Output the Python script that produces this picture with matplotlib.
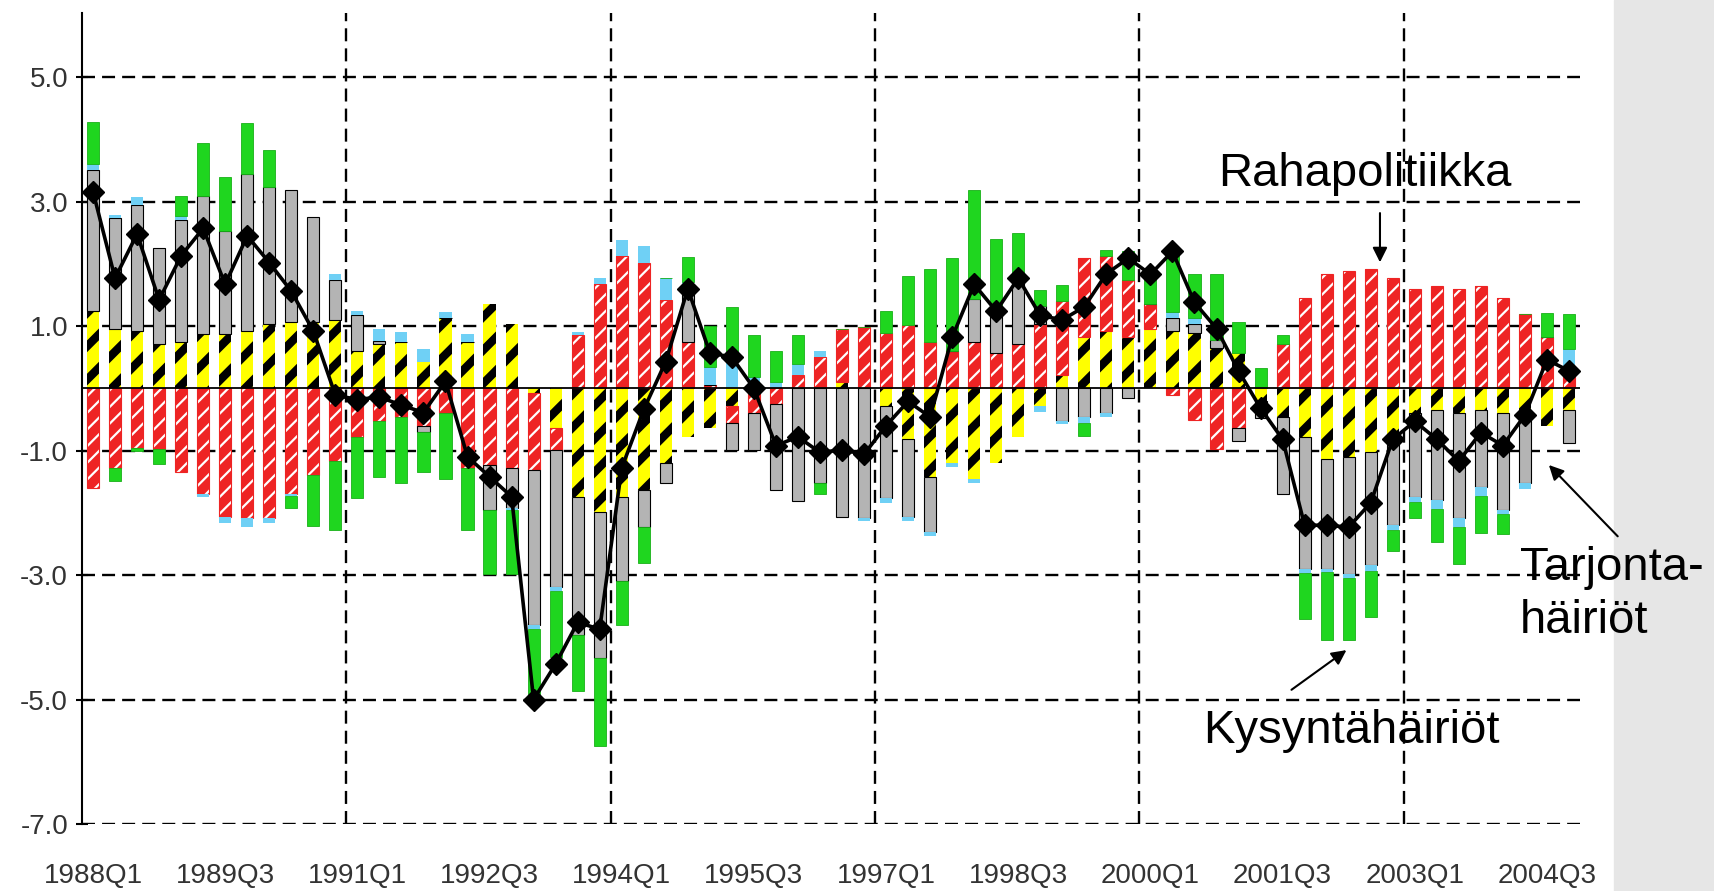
import numpy as np
import matplotlib
matplotlib.use("Agg")
import matplotlib.pyplot as plt
from matplotlib.patches import Rectangle

# quarters 1988Q1 .. 2004Q4
quarters = [f"{y}Q{q}" for y in range(1988, 2005) for q in range(1, 5)]
tick_labels = ["1988Q1", "1989Q3", "1991Q1", "1992Q3", "1994Q1", "1995Q3",
               "1997Q1", "1998Q3", "2000Q1", "2001Q3", "2003Q1", "2004Q3"]

# shock contributions
yellow_vals = [1.24, 0.96, 0.92, 0.71, 0.74, 0.87, 0.87, 0.92, 1.03, 1.06, 1.06, 1.10,
               0.60, 0.71, 0.74, 0.43, 1.13, 0.74, 1.35, 1.03, -0.08, -0.64, -1.74, -1.99,
               -1.74, -1.63, -1.20, -0.78, -0.64, -0.28, 0.0, 0.0, 0.0, 0.0, 0.10, 0.0,
               -0.28, -0.82, -1.42, -1.20, -1.45, -1.20, -0.78, -0.28, 0.21, 0.82, 0.92, 0.82,
               0.96, 0.92, 0.89, 0.64, 0.57, -0.20, -0.46, -0.78, -1.13, -1.10, -1.03, -0.78,
               -0.39, -0.35, -0.39, -0.35, -0.39, -0.35, -0.60, -0.35]
rahapolitiikka = [-1.60, -1.28, -0.96, -0.98, -1.35, -1.69, -2.06, -2.09, -2.09, -1.70, -1.40, -1.17,
                  -0.78, -0.53, -0.46, -0.60, -0.39, -1.28, -1.24, -1.28, -1.24, -0.35, 0.85, 1.67,
                  2.13, 2.02, 1.42, 0.74, 0.05, -0.28, -0.39, -0.25, 0.21, 0.50, 0.85, 0.99,
                  0.89, 1.01, 0.74, 0.60, 0.74, 0.57, 0.71, 1.03, 1.20, 1.28, 1.21, 0.92,
                  0.39, -0.10, -0.51, -0.98, -0.64, 0.0, 0.71, 1.45, 1.84, 1.88, 1.91, 1.77,
                  1.60, 1.65, 1.60, 1.65, 1.45, 1.20, 0.82, 0.35]
tarjonta = [2.27, 1.77, 2.02, 1.55, 1.96, 2.22, 1.65, 2.52, 2.20, 2.13, 1.70, 0.64,
            0.57, 0.05, 0.0, -0.10, 0.0, 0.0, -0.71, -0.64, -2.48, -2.20, -2.23, -2.34,
            -1.35, -0.60, -0.32, 0.90, 0.0, -0.43, -0.60, -1.38, -1.81, -1.52, -2.06, -2.09,
            -1.49, -1.24, -0.89, 0.0, 0.70, 0.60, 1.06, 0.30, -0.53, -0.46, -0.39, -0.15,
            0.0, 0.21, 0.14, 0.14, -0.21, -0.27, -1.24, -2.13, -1.77, -1.88, -1.81, -1.42,
            -1.35, -1.45, -1.70, -1.24, -1.56, -1.17, 0.0, -0.53]
blue_vals = [0.10, 0.05, 0.14, 0.0, 0.07, -0.05, -0.10, -0.14, -0.07, -0.03, 0.0, 0.09,
             0.07, 0.20, 0.17, 0.20, 0.09, 0.14, 0.0, -0.04, -0.07, -0.07, 0.06, 0.10,
             0.25, 0.26, 0.35, 0.07, 0.30, 0.45, 0.18, 0.10, 0.18, 0.10, 0.0, -0.04,
             -0.07, -0.07, -0.07, -0.07, -0.07, 0.0, 0.0, -0.10, -0.05, -0.10, -0.07, 0.0,
             0.0, 0.10, 0.10, 0.0, 0.0, 0.0, 0.0, -0.05, -0.05, -0.07, -0.10, -0.07,
             -0.09, -0.14, -0.14, -0.14, -0.07, -0.10, 0.0, 0.28]
kysynta = [0.67, -0.21, -0.05, -0.23, 0.32, 0.85, 0.88, 0.82, 0.60, -0.20, -0.81, -1.10,
           -0.98, -0.89, -1.06, -0.64, -1.06, -0.99, -1.03, -1.03, -1.10, -1.06, -0.89, -1.42,
           -0.71, -0.57, 0.0, 0.40, 0.65, 0.86, 0.67, 0.50, 0.46, -0.18, 0.0, 0.0,
           0.35, 0.80, 1.17, 1.49, 1.74, 1.23, 0.72, 0.25, 0.25, -0.21, 0.10, 0.46,
           0.50, 0.92, 0.71, 1.06, 0.50, 0.32, 0.14, -0.74, -1.10, -0.99, -0.74, -0.35,
           -0.26, -0.53, -0.60, -0.60, -0.32, 0.0, 0.39, 0.57]
total = [3.16, 1.77, 2.48, 1.42, 2.13, 2.57, 1.67, 2.45, 2.02, 1.56, 0.92, -0.11,
         -0.18, -0.14, -0.27, -0.39, 0.11, -1.10, -1.42, -1.74, -5.00, -4.43, -3.76, -3.87,
         -1.28, -0.34, 0.43, 1.60, 0.57, 0.50, 0.0, -0.92, -0.78, -1.03, -0.99, -1.06,
         -0.60, -0.21, -0.46, 0.82, 1.67, 1.24, 1.77, 1.17, 1.10, 1.31, 1.84, 2.09,
         1.83, 2.20, 1.38, 0.96, 0.28, -0.32, -0.82, -2.20, -2.20, -2.23, -1.84, -0.82,
         -0.53, -0.82, -1.17, -0.71, -0.92, -0.43, 0.46, 0.28]

label_font = ["Liberation Sans", "DejaVu Sans"]
note_font = ["Liberation Sans", "DejaVu Sans"]

fig = plt.figure(figsize=(17.15, 8.91), dpi=100)
fig.patches.append(Rectangle((1614 / 1715, 0), 1 - 1614 / 1715, 1,
                             transform=fig.transFigure, color="#e6e6e6", zorder=-10))
ax = fig.add_axes([82 / 1715, 1 - 824 / 891, (1580 - 82) / 1715, (824 - 13) / 891])

x = np.arange(len(quarters))
w = 0.55
pos_base = np.zeros(len(x))
neg_base = np.zeros(len(x))

series = [
    (yellow_vals, dict(color="#ffff00", hatch="/", edgecolor="black", linewidth=0), 6.0, None),
    (rahapolitiikka, dict(color="#ee2424", hatch="//", edgecolor="white", linewidth=0), 1.6, "#ee2424"),
    (tarjonta, dict(color="#b4b4b4", edgecolor="black", linewidth=0.8), 1.0, None),
    (blue_vals, dict(color="#6fd0f5", linewidth=0), 1.0, None),
    (kysynta, dict(color="#1fd61f", edgecolor="#18b018", linewidth=0.6), 1.0, None),
]
for vals, style, hlw, outline in series:
    v = np.array(vals)
    bottom = np.where(v >= 0, pos_base, neg_base)
    with plt.rc_context({"hatch.linewidth": hlw}):
        bars = ax.bar(x, v, w, bottom=bottom, zorder=2, **style)
    if outline:
        ax.bar(x, v, w, bottom=bottom, fill=False, edgecolor=outline, linewidth=0.8, zorder=2)
    pos_base += np.clip(v, 0, None)
    neg_base += np.clip(v, None, 0)

ax.plot(x, total, color="black", linewidth=2.6, marker="D", markersize=11, zorder=4)

# grid
for yv in [-7, -5, -3, -1, 1, 3, 5]:
    ax.axhline(yv, color="black", linewidth=1.7, dashes=(5.5, 3), zorder=1)
for xv in [11.5, 23.5, 35.5, 47.5, 59.5]:
    ax.axvline(xv, color="black", linewidth=1.7, dashes=(5.5, 3), zorder=1)
ax.axhline(0, color="black", linewidth=1.3, zorder=3)

ax.set_xlim(-0.5, 67.5)
ax.set_ylim(-7, 6.03)
for s in ["top", "right", "bottom"]:
    ax.spines[s].set_visible(False)
ax.spines["left"].set_linewidth(1.5)

ax.set_yticks([-7, -5, -3, -1, 1, 3, 5])
ax.set_yticklabels([f"{v:.1f}" for v in [-7, -5, -3, -1, 1, 3, 5]],
                   family=label_font, fontsize=20, color="#333333")
ax.tick_params(axis="y", direction="inout", length=8, width=1.5, pad=6)
ax.set_xticks(x[::6])
ax.set_xticklabels(tick_labels, family=label_font, fontsize=20, color="#333333")
ax.tick_params(axis="x", length=0, pad=28)

# annotations
arrow = dict(arrowstyle="-|>", color="black", lw=1.5, mutation_scale=22)
ax.annotate("", xy=(58.42, 1.98), xytext=(58.42, 2.86), arrowprops=arrow, annotation_clip=False)
ax.text(57.74, 3.45, "Rahapolitiikka", family=note_font, fontsize=34, ha="center", va="center")
ax.annotate("", xy=(66.0, -1.2), xytext=(69.3, -2.41), arrowprops=arrow, annotation_clip=False)
ax.text(64.77, -2.88, "Tarjonta-", family=note_font, fontsize=34, ha="left", va="center", clip_on=False)
ax.text(64.77, -3.74, "häiriöt", family=note_font, fontsize=34, ha="left", va="center", clip_on=False)
ax.annotate("", xy=(57.0, -4.18), xytext=(54.3, -4.87), arrowprops=arrow, annotation_clip=False)
ax.text(57.1, -5.51, "Kysyntähäiriöt", family=note_font, fontsize=34, ha="center", va="center")

fig.savefig("out.png", dpi=100)
